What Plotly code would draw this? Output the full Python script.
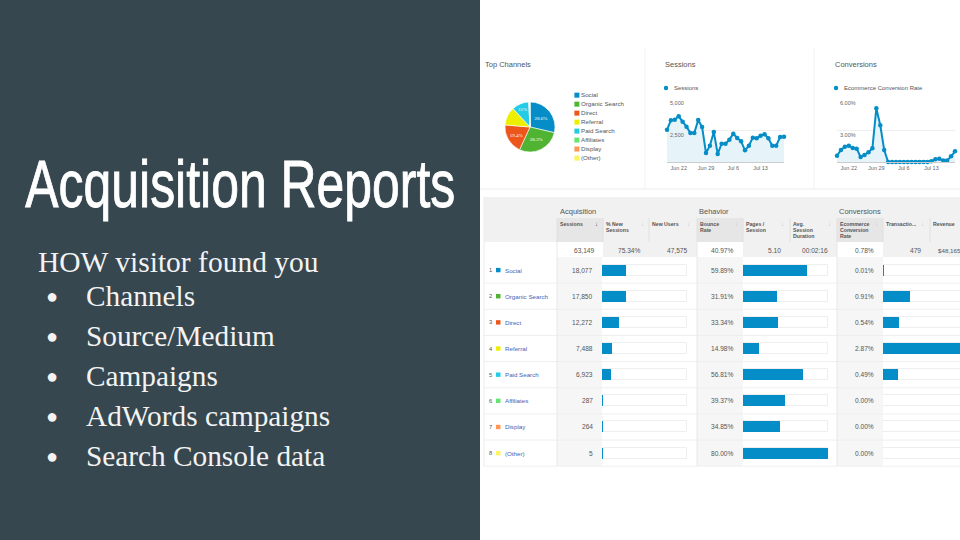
"""Acquisition Reports slide: bullets on the left, Analytics style report on the right."""
import plotly.graph_objects as go

W, H = 960, 540

# ---------------------------------------------------------------------------
# Data
# ---------------------------------------------------------------------------
channels = ["Social", "Organic Search", "Direct", "Referral", "Paid Search", "Affiliates", "Display", "(Other)"]
channel_colors = ["#058dc7", "#50b432", "#ed561b", "#edef00", "#24cbe5", "#64e572", "#ff9655", "#fff263"]
sessions = [18077, 17850, 12272, 7488, 6923, 287, 264, 5]
pie_labels = ["28.6%", "28.3%", "19.4%", "", "11%", "", "", ""]
session_share = [28.63, 28.27, 19.43, 11.86, 10.96, 0.45, 0.42, 0.01]
bounce_rate = [59.89, 31.91, 33.34, 14.98, 56.81, 39.37, 34.85, 80.00]
conv_rate = [0.01, 0.91, 0.54, 2.87, 0.49, 0.00, 0.00, 0.00]

days = [
    "2015-06-19", "2015-06-20", "2015-06-21", "2015-06-22", "2015-06-23", "2015-06-24", "2015-06-25", "2015-06-26",
    "2015-06-27", "2015-06-28", "2015-06-29", "2015-06-30", "2015-07-01", "2015-07-02", "2015-07-03", "2015-07-04",
    "2015-07-05", "2015-07-06", "2015-07-07", "2015-07-08", "2015-07-09", "2015-07-10", "2015-07-11", "2015-07-12",
    "2015-07-13", "2015-07-14", "2015-07-15", "2015-07-16", "2015-07-17", "2015-07-18", "2015-07-19",
]
daily_sessions = [
    2526, 3255, 3307, 3568, 3151, 2760, 2266, 2266, 3281, 2734, 703, 1276, 2344, 625, 1432, 1432,
    1745, 2214, 1875, 1615, 911, 1276, 1901, 1849, 2057, 2161, 1849, 1276, 1276, 1953, 1979,
]
daily_conv = [
    0.59, 1.13, 1.44, 1.53, 1.31, 1.25, 0.47, 0.66, 0.91, 1.28, 5.03, 3.44, 1.13, 0, 0, 0,
    0, 0, 0, 0, 0, 0, 0, 0, 0.06, 0.25, 0.31, 0.13, 0.13, 0.53, 1.00,
]
date_ticks = ["2015-06-22", "2015-06-29", "2015-07-06", "2015-07-13"]
date_tick_labels = ["Jun 22", "Jun 29", "Jul 6", "Jul 13"]

totals = ["63,149", "75.34%", "47,575", "40.97%", "5.10", "00:02:16", "0.78%", "479"]
sessions_text = ["18,077", "17,850", "12,272", "7,488", "6,923", "287", "264", "5"]
bounce_text = ["59.89%", "31.91%", "33.34%", "14.98%", "56.81%", "39.37%", "34.85%", "80.00%"]
conv_text = ["0.01%", "0.91%", "0.54%", "2.87%", "0.49%", "0.00%", "0.00%", "0.00%"]
column_headers = [
    "Sessions", "% New<br>Sessions", "New Users", "Bounce<br>Rate", "Pages /<br>Session",
    "Avg.<br>Session<br>Duration", "Ecommerce<br>Conversion<br>Rate", "Transactio...", "Revenue",
]
group_headers = ["Acquisition", "Behavior", "Conversions"]
bullets = ["Channels", "Source/Medium", "Campaigns", "AdWords campaigns", "Search Console data"]

# ---------------------------------------------------------------------------
# Pixel helpers
# ---------------------------------------------------------------------------
BLUE = "#058dc7"
SANS = "Liberation Sans"
SERIF = "Liberation Serif"
ROW_TOP, ROW_H = 257, 26.15
COL_X = [557, 603, 649, 697, 743, 790, 837, 883, 930]

# no condensed font is installed, so the title is squeezed to its width in the browser
PAGE_FIX = """
document.body.style.margin = '0';
document.querySelectorAll('.annotation-text').forEach(function (t) {
  if (t.textContent === 'Acquisition Reports') {
    t.setAttribute('textLength', '430');
    t.setAttribute('lengthAdjust', 'spacingAndGlyphs');
    t.style.stroke = '#ffffff';
    t.style.strokeWidth = '0.9px';
  }
});
"""


def dom_x(a, b):
    return [a / W, b / W]


def dom_y(top, bottom):
    return [1 - bottom / H, 1 - top / H]


shapes = []
annotations = []


def rect(x0, y0, x1, y1, color):
    shapes.append(dict(type="rect", xref="paper", yref="paper", x0=x0 / W, x1=x1 / W,
                       y0=1 - y0 / H, y1=1 - y1 / H, fillcolor=color, line_width=0, layer="below"))


def rule(x0, y0, x1, y1, color="#ececec"):
    shapes.append(dict(type="line", xref="paper", yref="paper", x0=x0 / W, x1=x1 / W,
                       y0=1 - y0 / H, y1=1 - y1 / H, line=dict(color=color, width=1), layer="below"))


def label(x, y, text, size=6.5, color="#555555", anchor="left", family=SANS):
    annotations.append(dict(xref="paper", yref="paper", x=x / W, y=1 - y / H, text=text, showarrow=False,
                            xanchor=anchor, yanchor="middle", align=anchor, borderpad=0,
                            font=dict(size=size, color=color, family=family)))


# ---------------------------------------------------------------------------
# Left panel
# ---------------------------------------------------------------------------
rect(0, 0, 480, 540, "#37474f")
annotations.append(dict(xref="paper", yref="paper", x=240 / W, y=1 - 184 / H, text="Acquisition Reports",
                        showarrow=False, xanchor="center", yanchor="middle", borderpad=0,
                        font=dict(size=66, color="#ffffff", family=SANS)))
label(37, 262, "HOW visitor found you", size=29.5, color="#f3f3f3", family=SERIF)
for i, item in enumerate(bullets):
    y = 296 + 40 * i
    label(45, y, "●", size=20, color="#f3f3f3", family=SANS)
    label(85, y, item, size=29.3, color="#f3f3f3", family=SERIF)

# ---------------------------------------------------------------------------
# Top panels
# ---------------------------------------------------------------------------
rule(480, 189, 960, 189)
rule(645, 48, 645, 189, "#f2f2f2")
rule(814, 48, 814, 189, "#f2f2f2")
label(484, 65, "Top Channels", size=7.5)
label(664, 65, "Sessions", size=7.5)
label(834, 65, "Conversions", size=7.5)
label(673, 88, "Sessions", size=6)
label(843, 88, "Ecommerce Conversion Rate", size=6)
for cx in (666, 836):
    shapes.append(dict(type="circle", xref="paper", yref="paper", x0=(cx - 2.2) / W, x1=(cx + 2.2) / W,
                       y0=1 - 90.2 / H, y1=1 - 85.8 / H, fillcolor=BLUE, line_width=0))

fig = go.Figure()
fig.add_trace(go.Pie(
    labels=channels, values=sessions, sort=False, direction="clockwise", rotation=0,
    marker=dict(colors=channel_colors, line=dict(color="#ffffff", width=0.6)),
    text=pie_labels, textinfo="text", textposition="inside", insidetextorientation="horizontal",
    textfont=dict(size=5, color="#ffffff", family=SERIF), showlegend=False,
    domain=dict(x=dom_x(505, 555), y=dom_y(102, 152)),
))

# pie legend as a small marker+text column
fig.add_trace(go.Scatter(
    x=[0] * len(channels), y=channels, mode="markers+text", text=channels, textposition="middle right",
    marker=dict(symbol="square", size=5, color=channel_colors),
    textfont=dict(size=6.2, color="#555555", family=SANS), cliponaxis=False, showlegend=False,
    xaxis="x2", yaxis="y2",
))


def add_line(values, x_name, y_name):
    fig.add_trace(go.Scatter(
        x=days, y=values, mode="lines+markers", line=dict(color=BLUE, width=2),
        marker=dict(color=BLUE, size=4.5), fill="tozeroy", fillcolor="#e6f4fa",
        cliponaxis=False, showlegend=False, xaxis=x_name, yaxis=y_name,
    ))


add_line(daily_sessions, "x3", "y3")
add_line(daily_conv, "x4", "y4")

for ref, tick, ypos in (("y3", "5,000", 5000), ("y3", "2,500", 2500), ("y4", "6.00%", 6), ("y4", "3.00%", 3)):
    annotations.append(dict(xref=("x3" if ref == "y3" else "x4") + " domain", yref=ref, x=0.012, y=ypos,
                            yshift=-5, text=tick, showarrow=False, xanchor="left", yanchor="middle",
                            font=dict(size=5.5, color="#666666", family=SANS)))

# ---------------------------------------------------------------------------
# Table background
# ---------------------------------------------------------------------------
TABLE_BOTTOM = ROW_TOP + 8 * ROW_H
rect(484, 197, 960, 242, "#f1f1f1")
rect(557, 218, 603, 242, "#e6e6e6")
rect(697, 218, 743, 242, "#e6e6e6")
rect(837, 218, 883, 242, "#e6e6e6")
rect(603, 242, 697, 257, "#f1f1f1")
rect(743, 242, 837, 257, "#f1f1f1")
rect(883, 242, 960, 257, "#f1f1f1")
for x0, x1 in ((557, 602), (697, 743), (837, 883)):
    rect(x0, 257, x1, TABLE_BOTTOM, "#f6f6f6")
for i in range(1, 9):
    y = ROW_TOP + i * ROW_H
    rule(484, y, 960, y, "#efefef")
rule(484, 197, 484, TABLE_BOTTOM, "#ececec")
for x in COL_X:
    rule(x, 218, x, 242, "#e0e0e0")
for x in (557, 697, 837):
    rule(x, 242, x, TABLE_BOTTOM, "#e8e8e8")

# ---------------------------------------------------------------------------
# Table text
# ---------------------------------------------------------------------------
for x, text in zip((559, 698, 838), group_headers):
    label(x, 211, text, size=7.5)
for x, text in zip(COL_X, column_headers):
    for j, line in enumerate(text.split("<br>")):
        label(x + 2, 224 + 6 * j, "<b>" + line + "</b>", size=5.2)
for i, x in enumerate(COL_X[:-1]):
    color = "#444444" if i == 0 else "#c4c4c4"
    label(x + 42, 224, "↓", size=6, color=color, anchor="right")
for x, text in zip((596, 642, 689, 735, 782, 829, 875, 922), totals):
    label(x, 250, text, size=6.6, anchor="right")
label(937, 250, "$48,165", size=6.2)

for i, name in enumerate(channels):
    y = ROW_TOP + (i + 0.5) * ROW_H
    label(488, y, str(i + 1), size=5.8)
    rect(496, y - 2.2, 500.5, y + 2.2, channel_colors[i])
    label(504, y, name, size=6.2, color="#3f62b5")
    label(594, y, sessions_text[i], size=6.6, anchor="right")
    label(735, y, bounce_text[i], size=6.6, anchor="right")
    label(875, y, conv_text[i], size=6.6, anchor="right")


# ---------------------------------------------------------------------------
# Table bars
# ---------------------------------------------------------------------------
def add_bars(values, track, x_name, y_name):
    fig.add_trace(go.Bar(
        x=[track] * len(channels), y=channels, orientation="h", width=0.42,
        marker=dict(color="#ffffff", line=dict(color="#eeeeee", width=1)),
        showlegend=False, xaxis=x_name, yaxis=y_name,
    ))
    fig.add_trace(go.Bar(
        x=values, y=channels, orientation="h", width=0.42,
        marker=dict(color=BLUE, line_width=0), showlegend=False, xaxis=x_name, yaxis=y_name,
    ))


add_bars(session_share, 100, "x5", "y5")
add_bars(bounce_rate, 80, "x6", "y6")
add_bars(conv_rate, 2.87, "x7", "y7")

hidden = dict(visible=False, fixedrange=True)
row_axis = dict(hidden, type="category", categoryorder="array", categoryarray=channels[::-1])
date_axis = dict(type="date", tickmode="array", tickvals=date_ticks, ticktext=date_tick_labels, showgrid=False,
                 zeroline=False, showline=True, linecolor="#cccccc", ticks="", tickfont=dict(size=5.5, color="#666666", family=SANS),
                 range=[days[0], days[-1]])
grid_axis = dict(showticklabels=False, ticks="", showgrid=True, gridcolor="#eeeeee", gridwidth=1, zeroline=False, showline=False)

fig.update_layout(
    width=W, height=H, margin=dict(l=0, r=0, t=0, b=0), paper_bgcolor="#ffffff", plot_bgcolor="rgba(0,0,0,0)",
    barmode="overlay", bargap=0, showlegend=False, shapes=shapes, annotations=annotations,
    xaxis2=dict(hidden, domain=dom_x(575, 640), range=[-0.03, 1], anchor="y2"),
    yaxis2=dict(row_axis, domain=dom_y(88.2, 165), anchor="x2"),
    xaxis3=dict(date_axis, domain=dom_x(667, 784), anchor="y3"),
    yaxis3=dict(grid_axis, domain=dom_y(98, 162), range=[0, 5000], tickvals=[0, 2500, 5000], anchor="x3"),
    xaxis4=dict(date_axis, domain=dom_x(837, 955), anchor="y4"),
    yaxis4=dict(grid_axis, domain=dom_y(98, 162), range=[0, 6], tickvals=[0, 3, 6], anchor="x4"),
    xaxis5=dict(hidden, domain=dom_x(602, 687), range=[0, 100], anchor="y5"),
    yaxis5=dict(row_axis, domain=dom_y(ROW_TOP, TABLE_BOTTOM), anchor="x5"),
    xaxis6=dict(hidden, domain=dom_x(743, 828), range=[0, 80], anchor="y6"),
    yaxis6=dict(row_axis, domain=dom_y(ROW_TOP, TABLE_BOTTOM), anchor="x6"),
    # last column runs off the slide: same bar scale, cut at the right edge
    xaxis7=dict(hidden, domain=dom_x(883, 960), range=[0, 2.6], anchor="y7"),
    yaxis7=dict(row_axis, domain=dom_y(ROW_TOP, TABLE_BOTTOM), anchor="x7"),
)

fig.write_html("out.html", post_script=PAGE_FIX, config=dict(displayModeBar=False))
